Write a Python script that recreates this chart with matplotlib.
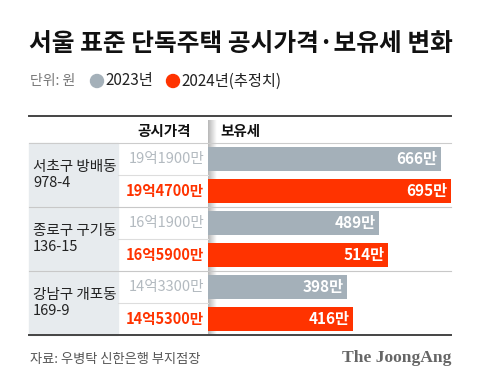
import numpy as np
import matplotlib.pyplot as plt
from matplotlib.patches import Rectangle, Circle

plt.rcParams['font.family'] = ['Noto Sans CJK KR', 'DejaVu Sans']

places = ['서초구 방배동\n978-4', '종로구 구기동\n136-15', '강남구 개포동\n169-9']
price_2023 = ['19억1900만', '16억1900만', '14억3300만']
price_2024 = ['19억4700만', '16억5900만', '14억5300만']
tax_2023 = [666, 489, 398]
tax_2024 = [695, 514, 416]

GRAY = '#a4b0b9'
RED = '#ff3300'
W, H = 480, 388

fig = plt.figure(figsize=(W / 100, H / 100), dpi=100)
# pixel overlay axes
pa = fig.add_axes([0, 0, 1, 1])
pa.set_xlim(0, W)
pa.set_ylim(H, 0)
pa.axis('off')

pa.text(29, 44, '서울 표준 단독주택 공시가격·보유세 변화', fontsize=17.8,
        fontweight='heavy', color='#111111', va='center', ha='left')

pa.text(30, 81, '단위: 원', fontsize=10, color='#777777', va='center')
pa.add_patch(Circle((97, 81), 6.5, color=GRAY))
pa.text(105, 81, '2023년', fontsize=11, color='#222222', va='center')
pa.add_patch(Circle((173, 81), 6.5, color=RED))
pa.text(181, 81, '2024년(추정치)', fontsize=11, color='#222222', va='center')

left, right = 29, 451
top, bottom = 143, 335
row_h = 32

# left column background
pa.add_patch(Rectangle((left, top), 118 - left, bottom - top, color='#e7ebee', zorder=0))

# shadow gradient at left of bar area
grad = np.linspace(0.72, 1.0, 20).reshape(1, -1)
pa.imshow(grad, cmap='gray', vmin=0, vmax=1, extent=(208, 217, bottom, 120),
          aspect='auto', zorder=0.5)

pa.text(164, 131, '공시가격', fontsize=10.5, fontweight='bold', color='#111111',
        ha='center', va='center')
pa.text(220, 131, '보유세', fontsize=10.5, fontweight='bold', color='#111111',
        ha='left', va='center')

pa.plot([left, right], [116, 116], color='#444444', lw=1.4)
pa.plot([left, right], [top, top], color='#cccccc', lw=0.8)
pa.plot([left, right], [bottom - 0.5, bottom - 0.5], color='#444444', lw=1.4)

for g in range(3):
    y0 = top + g * 2 * row_h
    if g > 0:
        pa.plot([left, right], [y0, y0], color='#c8c8c8', lw=0.8)
    pa.plot([118, 208], [y0 + row_h, y0 + row_h], color='#dddddd', lw=0.8)
    pa.text(33, y0 + row_h, places[g], fontsize=10.5, color='#222222',
            va='center', ha='left', linespacing=1.25)
    pa.text(204, y0 + row_h / 2, price_2023[g], fontsize=10.5, color='#b3bac0',
            va='center', ha='right')
    pa.text(204, y0 + row_h * 1.5, price_2024[g], fontsize=10.5, color=RED,
            fontweight='bold', va='center', ha='right')

pa.text(30, 359, '자료: 우병탁 신한은행 부지점장', fontsize=9.5, color='#555555', va='center')
pa.text(451, 358, 'The JoongAng', fontsize=12.6, color='#666666', fontweight='bold',
        family='Liberation Serif', va='center', ha='right')

# bar axes
ba = fig.add_axes([208 / W, 1 - bottom / H, (right - 208) / W, (bottom - top) / H])
ba.patch.set_alpha(0)
vals, cols = [], []
for a, b in zip(tax_2023, tax_2024):
    vals += [a, b]
    cols += [GRAY, RED]
ypos = np.arange(len(vals))
ba.barh(ypos, vals, height=0.72, color=cols, zorder=2)
for y, v in zip(ypos, vals):
    ba.text(v - 10, y, f'{v}만', color='white', fontsize=11, fontweight='bold',
            ha='right', va='center', zorder=3)
ba.set_xlim(0, 695)
ba.set_ylim(len(vals) - 0.5, -0.5)
ba.axis('off')

fig.savefig('out.png', dpi=100)
